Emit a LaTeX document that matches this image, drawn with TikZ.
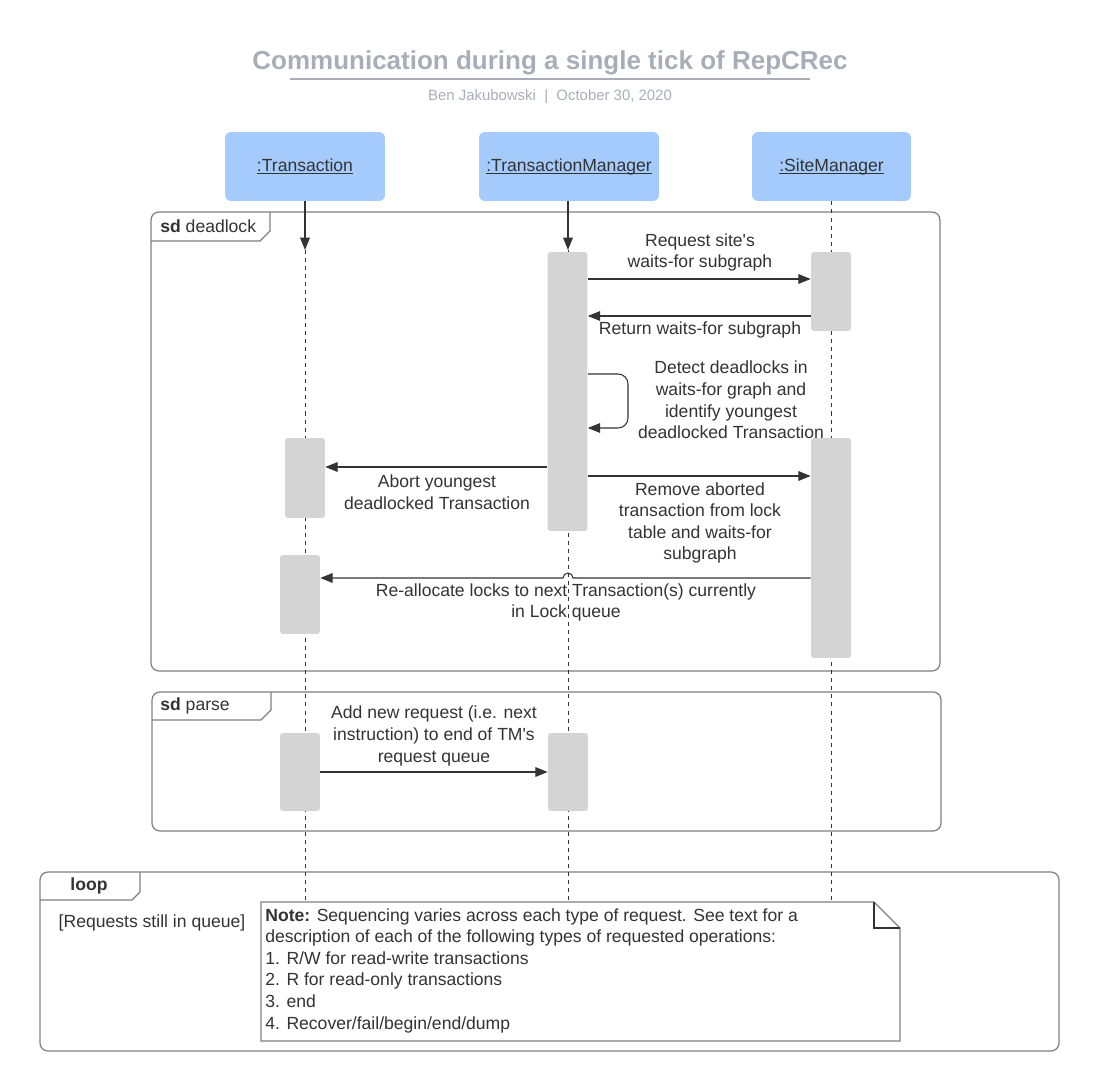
\documentclass[tikz,border=0pt]{standalone}
\usepackage{fontspec}
\setmainfont{Liberation Sans}
\usepackage{tikz}
\usetikzlibrary{arrows.meta}

\definecolor{headblue}{HTML}{A5CBFD}
\definecolor{actgray}{HTML}{D4D4D4}
\definecolor{titlegray}{HTML}{A8AEB8}
\definecolor{ink}{HTML}{333333}
\definecolor{framegray}{HTML}{808080}

\newcommand\ulname[1]{\setbox0\hbox{#1}\rlap{\rule[-1.6pt]{\wd0}{0.6pt}}#1}

\begin{document}
\begin{tikzpicture}[x=0.02cm, y=-0.02cm,
	every node/.style={font=\fontsize{10}{12.3}\selectfont, text=ink},
	header/.style={fill=headblue, rounded corners=0.12cm, minimum height=1.38cm, inner sep=0},
	act/.style={fill=actgray, rounded corners=0.06cm, minimum width=0.8cm, inner sep=0},
	life/.style={draw=ink, dash pattern=on 2.3pt off 2.3pt, line width=0.5pt},
	msg/.style={draw=ink, line width=0.6pt, -{Triangle[length=7pt,width=5.5pt]}},
	frame/.style={draw=framegray, line width=0.7pt, rounded corners=0.16cm},
	tab/.style={draw=framegray, line width=0.7pt},
	lbl/.style={align=center, inner sep=0}
	]

	\useasboundingbox (0,0) rectangle (1100,1092);

	% title
	\node[font=\fontsize{14.8}{18}\selectfont\bfseries, text=titlegray] (title) at (550,63) {Communication during a single tick of RepCRec};
	\draw[titlegray, line width=1.2pt] (290,79) -- (810,79);
	\node[font=\fontsize{8.5}{10}\selectfont, text=titlegray] (sub) at (550,96.5) {Ben Jakubowski \ | \ October 30, 2020};

	% frames
	\draw[frame] (151,212) rectangle (940,671);
	\draw[tab] (151,241) -- (260,241) -- (270,231) -- (270,212);
	\node[anchor=west, inner sep=0] (sdDead) at (160,226) {\textbf{sd} deadlock};

	\draw[frame] (152,692) rectangle (941,831);
	\draw[tab] (152,720) -- (261,720) -- (271,710) -- (271,692);
	\node[anchor=west, inner sep=0] (sdParse) at (160,706) {\textbf{sd} parse};

	\draw[frame] (40,872) rectangle (1059,1051);
	\draw[tab] (40,900) -- (132,900) -- (140,892) -- (140,872);
	\node[inner sep=0] (loop) at (89,886) {\textbf{loop}};
	\node[inner sep=0] (guard) at (152,923) {[Requests still in queue]};

	% lifelines
	\node[header, minimum width=3.2cm] (tr) at (305,166.5) {\ulname{:Transaction}};
	\node[header, minimum width=3.6cm] (tm) at (569,166.5) {\ulname{:TransactionManager}};
	\node[header, minimum width=3.18cm] (sm) at (831.5,166.5) {\ulname{:SiteManager}};
	\coordinate (trEnd) at (305,900);
	\coordinate (tmEnd) at (568,900);
	\coordinate (smEnd) at (831,900);
	\coordinate (trIn) at (305,250);
	\coordinate (tmIn) at (568,250);
	\draw[life] (tr.south) -- (trEnd);
	\draw[life] (tm.south -| tmEnd) -- (tmEnd);
	\draw[life] (sm.south -| smEnd) -- (smEnd);
	\draw[msg] (tr.south) -- (trIn);
	\draw[msg] (tm.south -| tmIn) -- (tmIn);

	% activations
	\node[act, minimum height=5.58cm] (tmA) at (567.5,391.5) {};
	\node[act, minimum height=1.58cm] (smA) at (831,291.5) {};
	\node[act, minimum height=4.4cm] (smB) at (831,548) {};
	\node[act, minimum height=1.6cm] (trA) at (305,478) {};
	\node[act, minimum height=1.58cm] (trB) at (300,594.5) {};
	\node[act, minimum height=1.56cm] (trC) at (300,772) {};
	\node[act, minimum height=1.56cm] (tmB) at (568,772) {};

	% messages
	\draw[msg] (tmA.east |- 0,279) -- (smA.west |- 0,279);
	\node[lbl] (reqL) at (700,252.5) {Request site\textquotesingle s\\waits-for subgraph};
	\draw[msg] (smA.west |- 0,316) -- (tmA.east |- 0,316);
	\node[lbl] (retL) at (700,329.5) {Return waits-for subgraph};
	\draw[msg, rounded corners=0.2cm] (tmA.east |- 0,374) -- (628,374) -- (628,428) -- (tmA.east |- 0,428);
	\node[lbl] (detL) at (731,400) {Detect deadlocks in\\waits-for graph and\\identify youngest\\deadlocked Transaction};
	\draw[msg] (tmA.west |- 0,467) -- (trA.east |- 0,467);
	\node[lbl] (abL) at (437,492.5) {Abort youngest\\deadlocked Transaction};
	\draw[msg] (tmA.east |- 0,476) -- (smB.west |- 0,476);
	\node[lbl] (remL) at (700,523) {Remove aborted\\transaction from lock\\table and waits-for\\subgraph};
	\draw[msg] (smB.west |- 0,578) -- (573,578) arc[start angle=0, end angle=180, radius=0.1cm] -- (trB.east |- 0,578);
	\node[lbl] (reL) at (566,602.5) {Re-allocate locks to next Transaction(s) currently\\in Lock queue};
	\draw[msg] (trC.east |- 0,772) -- (tmB.west |- 0,772);
	\node[lbl] (addL) at (434,736) {Add new request (i.e. next\\instruction) to end of TM\textquotesingle s\\request queue};

	% note
	\draw[draw=framegray, line width=0.7pt, fill=white] (261,902) -- (874,902) -- (900,928) -- (900,1041) -- (261,1041) -- cycle;
	\draw[ink, line width=0.7pt] (874,902) -- (874,928) -- (900,928);
	\node[anchor=north west, align=left, inner sep=0] (note) at (265,908) {\textbf{Note:} Sequencing varies across each type of request. See text for a\\description of each of the following types of requested operations:\\1. R/W for read-write transactions\\2. R for read-only transactions\\3. end\\4. Recover/fail/begin/end/dump};

\end{tikzpicture}
\end{document}
